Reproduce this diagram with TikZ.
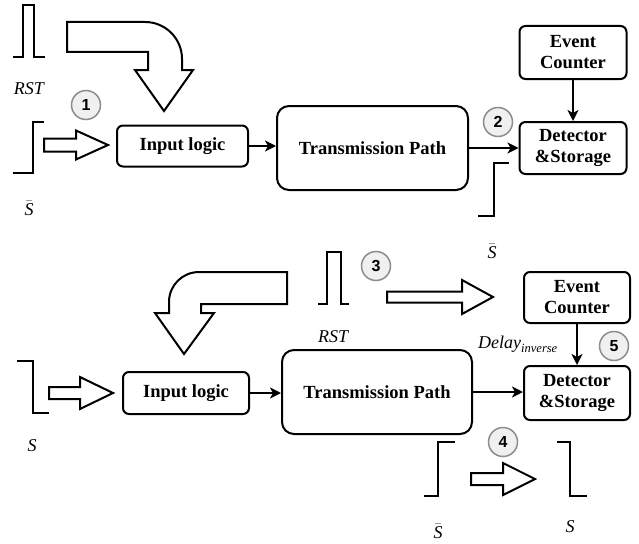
\documentclass[tikz,border=0pt]{standalone}
\usepackage{fontspec}
\setmainfont{Liberation Serif}
\newfontfamily\numfont{Liberation Sans}
\usetikzlibrary{arrows.meta}

% hollow block arrow: #1 tail x, #2 tip x, #3 centre y, #4 head length, #5 half shaft, #6 half head
\newcommand\hollowarrow[6]{%
  \draw[hollow] (#1,#3-#5) -- (#2-#4,#3-#5) -- (#2-#4,#3-#6) -- (#2,#3)
    -- (#2-#4,#3+#6) -- (#2-#4,#3+#5) -- (#1,#3+#5) -- cycle;}

\begin{document}
\begin{tikzpicture}[x=1pt,y=-1pt,
  box/.style={draw,line width=2pt,rounded corners=6pt,align=center,
    inner sep=0pt,font=\fontsize{18.5}{21}\selectfont\bfseries},
  bigbox/.style={box,rounded corners=12pt},
  conn/.style={line width=1.8pt,-{Stealth[length=11pt,width=11pt,inset=3pt]}},
  sig/.style={line width=2pt},
  hollow/.style={line width=2pt,fill=white,line join=miter},
  marker/.style={circle,draw=black!45,fill=black!6,line width=1.5pt,
    minimum size=29pt,inner sep=0pt,font=\numfont\fontsize{16}{16}\selectfont\bfseries},
  lbl/.style={inner sep=0pt,anchor=base,font=\fontsize{18}{18}\selectfont\itshape}]

\useasboundingbox[fill=white] (0,0) rectangle (639,543);

% ---------------- upper chain ----------------
\node[box,minimum width=131pt,minimum height=41pt] (in1) at (182.5,146) {Input logic};
\node[bigbox,minimum width=191pt,minimum height=84pt] (tp1) at (372.5,148) {Transmission Path};
\node[box,minimum width=107pt,minimum height=52pt] (det1) at (573,148) {Detector\\\&Storage};
\node[box,minimum width=107pt,minimum height=53pt] (ec1) at (573,52.5) {Event\\Counter};

\draw[conn] (in1.east) -- (in1.east -| tp1.west);
\draw[conn] (tp1.east) -- (tp1.east -| det1.west);
\draw[conn] (ec1.south) -- (det1.north);

% reset pulse and falling-edge input
\draw[sig] (13,57) -- (23,57) -- (23,5) -- (34,5) -- (34,57) -- (45,57);
\node[lbl] (rst1) at (29,94) {RST};
\draw[sig] (13,173) -- (33,173) -- (33,122) -- (44,122);
\node[lbl] (sb1) at (29,215) {$\bar{\mbox{\itshape S}}$};
\draw[sig] (478,216) -- (494,216) -- (494,163) -- (509,163);
\node[lbl] (sb2) at (492,258) {$\bar{\mbox{\itshape S}}$};

% bent block arrow into the input logic
\draw[hollow] (67,22) -- (145,22) .. controls (165.5,22) and (182,38.5) .. (182,59)
  -- (182,70) -- (193,70) -- (164,111) -- (135,70) -- (148,70) -- (148,52) -- (67,52) -- cycle;
\hollowarrow{44}{108}{145}{32}{6.5}{14.5}

\node[marker] (m1) at (86,105) {1};
\node[marker] (m2) at (498,122) {2};

% ---------------- lower chain ----------------
\node[box,minimum width=126pt,minimum height=42pt] (in2) at (186,393) {Input logic};
\node[bigbox,minimum width=190pt,minimum height=84pt] (tp2) at (377,392) {Transmission Path};
\node[box,minimum width=106pt,minimum height=54pt] (det2) at (577,393) {Detector\\\&Storage};
\node[box,minimum width=106pt,minimum height=51pt] (ec2) at (577,297.5) {Event\\Counter};

\draw[conn] (in2.east) -- (in2.east -| tp2.west);
\draw[conn] (tp2.east) -- (tp2.east -| det2.west);
\draw[conn] (ec2.south) -- (det2.north);

\node[lbl,anchor=base west] (dly) at (478,348)
  {Delay{\fontsize{12.5}{12.5}\selectfont\raisebox{-4pt}{inverse}}};

% input step, reset pulse and output steps
\draw[sig] (17,361) -- (33,361) -- (33,413) -- (49,413);
\node[lbl] (s1) at (32,451) {S};
\draw[sig] (318,304) -- (327,304) -- (327,252) -- (341,252) -- (341,304) -- (349,304);
\node[lbl] (rst2) at (333,342) {RST};
\draw[sig] (424,496) -- (438,496) -- (438,442) -- (455,442);
\node[lbl] (sb3) at (438,538) {$\bar{\mbox{\itshape S}}$};
\draw[sig] (557,442) -- (570,442) -- (570,496) -- (587,496);
\node[lbl] (s2) at (570,532) {S};

% bent block arrow and straight block arrows
\draw[hollow] (287,272) -- (199,272) .. controls (182.4,272) and (169,285.4) .. (169,302)
  -- (169,313) -- (155,313) -- (184,354) -- (214,313) -- (201,313) -- (201,304) -- (287,304) -- cycle;
\hollowarrow{49}{113}{393}{33}{6}{16}
\hollowarrow{387}{493}{297}{31}{5.5}{17}
\hollowarrow{471}{535}{479}{32}{6}{16}

\node[marker] (m3) at (376,266) {3};
\node[marker] (m4) at (503,442) {4};
\node[marker] (m5) at (614,346) {5};
\end{tikzpicture}
\end{document}
